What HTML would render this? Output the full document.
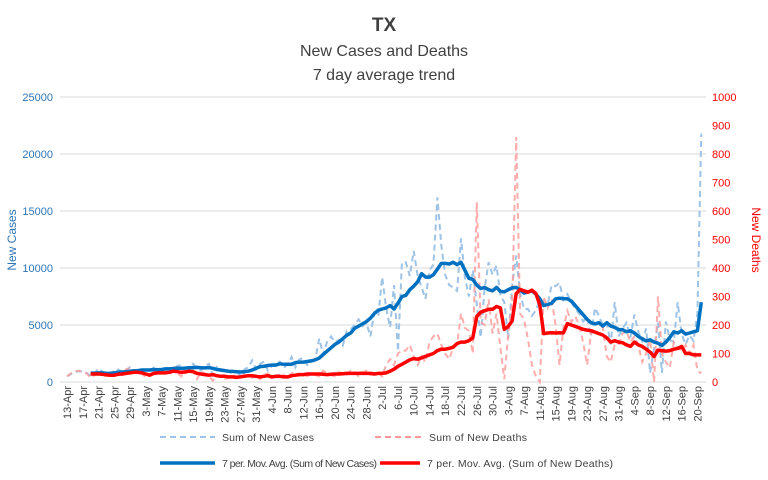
<!DOCTYPE html>
<html><head><meta charset="utf-8"><style>
body{margin:0;background:#fff;}
svg{display:block;font-family:"Liberation Sans",sans-serif;}
</style></head><body>
<svg id="chart" width="768" height="480">
<text x="384" y="31" text-anchor="middle" font-size="19" font-weight="bold" fill="#404040">TX</text>
<text x="384" y="56" text-anchor="middle" font-size="16" fill="#404040">New Cases and Deaths</text>
<text x="384" y="80" text-anchor="middle" font-size="16" fill="#404040">7 day average trend</text>
<text transform="translate(16,240) rotate(-90)" text-anchor="middle" font-size="12" fill="#2E75B6">New Cases</text>
<text transform="translate(752,240) rotate(90)" text-anchor="middle" font-size="12" fill="#FF0000">New Deaths</text>
<g id="grid"></g><g id="xlabels"></g><g id="series"></g>
<g>
<line x1="160" y1="437" x2="215" y2="437" stroke="#9DC3E6" stroke-width="2" stroke-dasharray="6,4"/>
<text x="222" y="441" font-size="10.5" textLength="92" fill="#404040">Sum of New Cases</text>
<line x1="375" y1="437" x2="425" y2="437" stroke="#FF9999" stroke-width="2" stroke-dasharray="6,4"/>
<text x="429" y="441" font-size="10.5" textLength="98" fill="#404040">Sum of New Deaths</text>
<line x1="160" y1="463" x2="215" y2="463" stroke="#0070C0" stroke-width="3.5"/>
<text x="222" y="467" font-size="10.5" textLength="155" fill="#404040">7 per. Mov. Avg. (Sum of New Cases)</text>
<line x1="380" y1="463" x2="420" y2="463" stroke="#FF0000" stroke-width="3.5"/>
<text x="427" y="467" font-size="10.5" textLength="186" fill="#404040">7 per. Mov. Avg. (Sum of New Deaths)</text>
</g>
</svg>
<script>
const leftTicks=[0,5000,10000,15000,20000,25000];
const rightTicks=[0,100,200,300,400,500,600,700,800,900,1000];
const rawCases=[500,700,850,950,900,800,500,750,1200,900,700,800,650,1100,900,1000,1300,900,1050,850,1100,1000,1250,900,1000,1300,1100,1200,1400,1500,1200,1300,1600,1200,1000,1400,1600,600,1300,900,1000,700,900,1000,500,1100,1300,1900,1100,1600,1800,1000,1400,1700,1800,1200,1600,2200,1300,2000,2100,1500,1800,2000,3800,2400,3500,4000,3500,3700,3200,4500,4600,5000,5500,4900,5200,4000,6100,5800,9200,6500,4800,8500,2700,10500,10500,9300,11500,9300,8300,7300,9800,10300,16200,12000,9400,8500,8300,8000,12600,9200,7500,9800,6800,3900,8200,10500,9400,10200,7600,7000,3800,8500,11100,7800,6400,6400,5800,6300,7200,6900,6800,8500,8400,8700,7200,7700,7000,6400,6000,5300,5700,4000,6500,5800,5000,5200,3300,7000,4000,4700,5200,3900,5900,4400,3600,4700,800,3000,5200,800,5300,3700,3500,7000,4200,3300,4100,3600,6000,21800];
const rawDeaths=[20,30,38,40,35,30,15,25,35,28,20,25,40,30,25,45,50,35,40,30,15,25,35,45,30,40,35,50,30,20,50,45,40,10,35,30,20,5,25,20,10,15,25,20,10,30,25,15,20,10,25,30,15,20,10,25,15,30,35,25,30,20,30,25,20,40,30,25,20,35,30,25,40,35,20,30,40,25,35,30,20,60,80,60,100,110,110,130,90,60,90,70,140,160,170,130,100,80,120,130,240,190,180,100,630,210,200,290,170,240,120,10,170,280,860,240,220,150,60,20,0,300,260,290,200,60,190,250,210,230,200,140,60,170,200,210,190,90,70,130,130,170,180,140,160,130,70,100,150,0,300,100,70,50,140,120,110,130,100,130,40,30];
const maCases=[null,null,null,null,null,null,780,780,800,800,750,760,800,850,880,900,950,980,1000,1050,1050,1050,1100,1080,1100,1150,1150,1180,1200,1200,1220,1250,1260,1280,1250,1240,1260,1200,1100,1050,1000,950,930,900,880,900,950,1050,1200,1350,1380,1450,1480,1480,1600,1550,1550,1560,1700,1750,1750,1800,1850,1950,2100,2400,2700,3000,3300,3500,3800,4100,4300,4700,4900,5100,5300,5600,6000,6300,6400,6500,6700,6400,6900,7500,7600,8100,8400,8800,9500,9200,9200,9400,9900,10400,10400,10350,10500,10300,10500,9800,9100,9000,8500,8200,8300,8100,8000,8300,7950,7900,8100,8250,8300,8100,7800,7900,8000,7700,7300,6700,6800,6900,7300,7350,7300,7300,7100,6700,6300,5900,5500,5200,5100,5200,4900,5200,4900,4800,4600,4600,4400,4500,4300,4000,3800,3600,3700,3500,3400,3200,3500,3900,4400,4300,4500,4200,4300,4400,4500,7000];
const maDeaths=[null,null,null,null,null,null,28,28,28,27,25,24,24,27,28,30,32,34,34,32,28,24,30,32,32,32,34,38,36,34,35,38,36,30,28,26,24,26,22,20,20,18,18,16,18,20,22,22,20,18,20,22,18,20,20,18,18,22,24,26,26,28,28,28,28,27,26,27,28,28,29,30,30,30,30,31,30,30,28,30,30,32,38,45,55,62,70,78,82,80,85,90,95,100,110,115,115,118,122,135,140,140,145,155,230,245,250,255,255,265,260,185,195,215,310,325,320,315,322,310,270,170,172,173,172,173,172,205,200,195,190,185,182,180,175,170,165,155,140,145,140,138,130,125,140,130,125,115,105,90,112,110,108,110,115,118,125,100,100,95,95,95];
const months=["Jan","Feb","Mar","Apr","May","Jun","Jul","Aug","Sep","Oct","Nov","Dec"];
const x0=67,dx=3.94,yBase=382,yTop=97;
const X=i=>x0+i*dx;
const YL=v=>yBase-(v/25000)*(yBase-yTop);
const YR=v=>yBase-(v/1000)*(yBase-yTop);
const NS="http://www.w3.org/2000/svg";
function mk(tag,attrs,parent){const e=document.createElementNS(NS,tag);for(const k in attrs)e.setAttribute(k,attrs[k]);parent.appendChild(e);return e;}
const grid=document.getElementById('grid');
leftTicks.forEach(v=>{
 const l=mk('line',{x1:60,x2:706,y1:YL(v),y2:YL(v),stroke:'#D9D9D9','stroke-width':1},grid);
 
 
 const t=mk('text',{x:53,y:YL(v)+4,'text-anchor':'end','font-size':11,fill:'#2E75B6'},grid);
 t.textContent=v;
 
 
});
rightTicks.forEach(v=>{
 const t=mk('text',{x:712,y:YR(v)+4,'font-size':11,fill:'#FF0000'},grid);
 t.textContent=v;
 
 
});
const xl=document.getElementById('xlabels');
const start=new Date(2020,3,13);
for(let i=0;i<rawCases.length;i+=4){
 const d=new Date(start.getTime()+i*86400000);
 const t=mk('text',{transform:`translate(${X(i)+4},386) rotate(-90)`,'text-anchor':'end','font-size':11,fill:'#404040'},xl);
 t.textContent=d.getDate()+'-'+months[d.getMonth()];
 
 
}
function path(arr,Y){let d='';let pen=false;arr.forEach((v,i)=>{if(v==null){pen=false;return;}d+=(pen?'L':'M')+X(i).toFixed(1)+','+Y(v).toFixed(1);pen=true;});return d;}
const s=document.getElementById('series');
const p1=mk('path',{d:path(rawCases,YL),fill:'none',stroke:'#9DC3E6','stroke-width':2,'stroke-dasharray':'6,4'},s);


const p2=mk('path',{d:path(rawDeaths,YR),fill:'none',stroke:'#FF9999','stroke-width':2,'stroke-dasharray':'6,4','stroke-opacity':0.8},s);


const p3=mk('path',{d:path(maCases,YL),fill:'none',stroke:'#0070C0','stroke-width':3.5,'stroke-linejoin':'round'},s);


const p4=mk('path',{d:path(maDeaths,YR),fill:'none',stroke:'#FF0000','stroke-width':3.5,'stroke-linejoin':'round'},s);


</script>
</body></html>
